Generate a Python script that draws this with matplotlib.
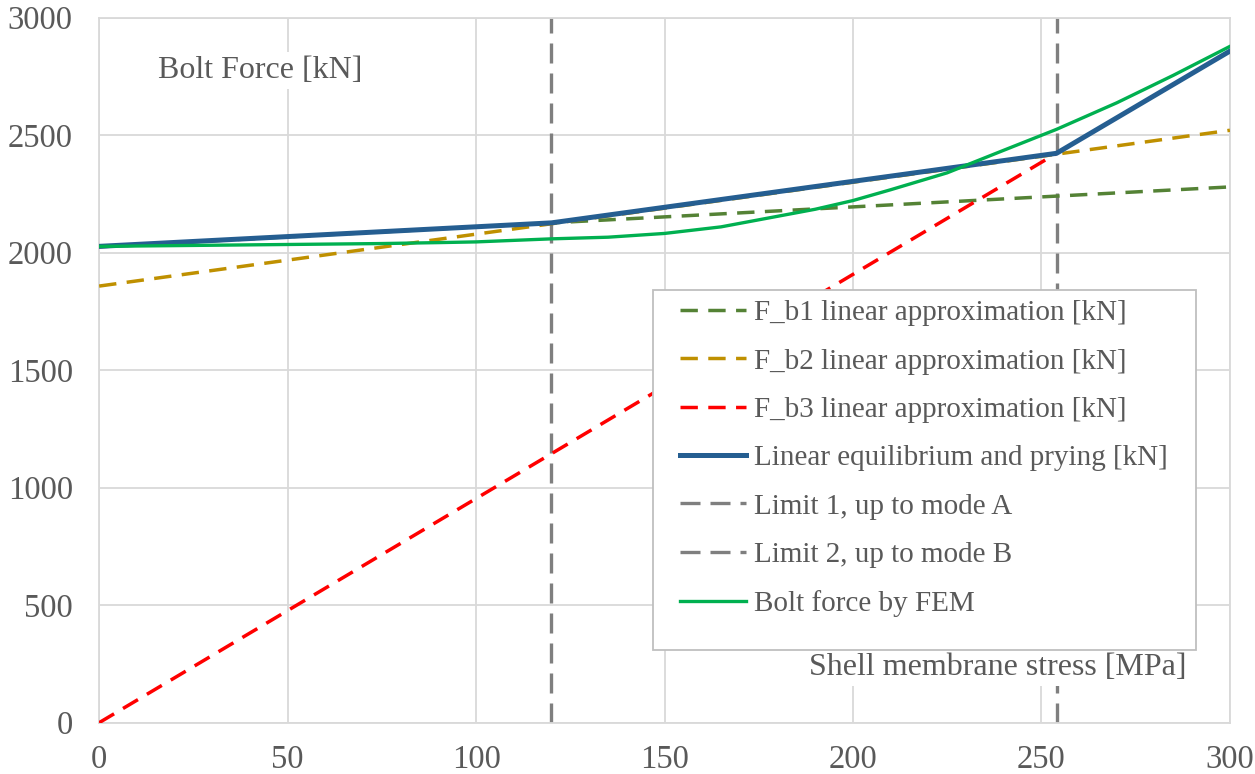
import matplotlib
matplotlib.use("Agg")
import matplotlib.pyplot as plt
from matplotlib.patches import Rectangle

# Shell membrane stress [MPa] vs bolt force [kN]
fb1_x = [0, 300]
fb1_y = [2025, 2280]
fb2_x = [0, 300]
fb2_y = [1858, 2521]
fb3_x = [0, 254]
fb3_y = [0, 2423]

lin_x = [0, 120, 254, 300]
lin_y = [2027, 2127, 2423, 2858]

limit1 = 120
limit2 = 254

fem_x = [0, 25, 50, 75, 90, 100, 120, 135, 150, 165, 180, 190, 200,
         210, 225, 240, 254, 270, 285, 300]
fem_y = [2027, 2031, 2035, 2039, 2043, 2046, 2059, 2066, 2082, 2110,
         2155, 2185, 2222, 2268, 2340, 2436, 2525, 2638, 2755, 2878]

x_ticks = [0, 50, 100, 150, 200, 250, 300]
y_ticks = [0, 500, 1000, 1500, 2000, 2500, 3000]

plt.rcParams["font.family"] = ["Liberation Serif", "DejaVu Serif"]

fig = plt.figure(figsize=(12.55, 7.74), dpi=100)
ax = fig.add_axes([0.079, 0.0663, 0.901, 0.9108])

dash = (5, 3)
ax.plot(fb1_x, fb1_y, color="#548235", lw=2.5, dashes=dash,
        label="F_b1 linear approximation [kN]", zorder=3)
ax.plot(fb2_x, fb2_y, color="#BF9000", lw=2.5, dashes=dash,
        label="F_b2 linear approximation [kN]", zorder=3)
ax.plot(fb3_x, fb3_y, color="#FF0000", lw=2.5, dashes=dash,
        label="F_b3 linear approximation [kN]", zorder=3)
ax.plot(lin_x, lin_y, color="#255E91", lw=3.6,
        label="Linear equilibrium and prying [kN]", zorder=4)
ax.plot([limit1, limit1], [0, 3000], color="#7F7F7F", lw=2.4, dashes=(6, 3),
        label="Limit 1, up to mode A", zorder=2)
ax.plot([limit2, limit2], [0, 3000], color="#7F7F7F", lw=2.4, dashes=(6, 3),
        label="Limit 2, up to mode B", zorder=2)
ax.plot(fem_x, fem_y, color="#00B050", lw=2.4,
        label="Bolt force by FEM", zorder=5)

ax.set_xlim(0, 300)
ax.set_ylim(0, 3000)
ax.set_xticks(x_ticks)
ax.set_yticks(y_ticks)
ax.grid(True, color="#D9D9D9", lw=1.3, zorder=0)
ax.set_axisbelow(True)
for s in ax.spines.values():
    s.set_color("#D9D9D9")
    s.set_linewidth(1.3)
ax.tick_params(axis="both", length=0, labelsize=23.5, labelcolor="#595959")
ax.tick_params(axis="y", pad=19)
ax.tick_params(axis="x", pad=16)

box = dict(facecolor="white", edgecolor="none", pad=3)
ax.text(15.5, 2775, "Bolt Force [kN]", fontsize=23, color="#595959",
        va="center", ha="left", bbox=box, zorder=5.5)
ax.text(288.5, 235, "Shell membrane stress [MPa]", fontsize=23,
        color="#595959", va="center", ha="right", bbox=box, zorder=5.5)

# legend frame drawn separately (Excel legend box has extra room at the bottom)
frame = Rectangle((0.4898, 0.1031), 0.4802, 0.5107, transform=ax.transAxes,
                  facecolor="white", edgecolor="#BFBFBF", lw=1.3, zorder=6)
ax.add_patch(frame)

leg = ax.legend(loc="upper left", bbox_to_anchor=(0.5137, 0.5996),
                fontsize=21, frameon=False, borderpad=0,
                labelspacing=0.75, handlelength=2.27, handletextpad=0.28,
                borderaxespad=0)
for t in leg.get_texts():
    t.set_color("#595959")
leg.set_zorder(7)

fig.savefig("out.png", dpi=100)
